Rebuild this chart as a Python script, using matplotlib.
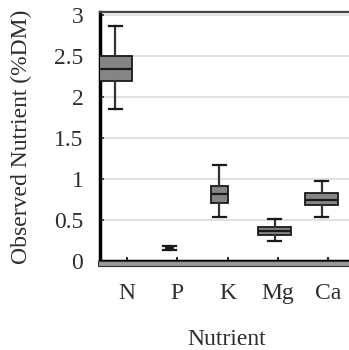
import matplotlib
matplotlib.use("Agg")
import matplotlib.pyplot as plt
from matplotlib.patches import Rectangle
import numpy as np

# values (%DM)
nutrients = ["N", "P", "K", "Mg", "Ca"]
whislo = [1.86, 0.13, 0.54, 0.24, 0.54]
q1 = [2.20, 0.145, 0.71, 0.32, 0.68]
med = [2.34, 0.155, 0.82, 0.37, 0.74]
q3 = [2.50, 0.165, 0.915, 0.415, 0.83]
whishi = [2.87, 0.18, 1.17, 0.51, 0.98]
yticks = [0, 0.5, 1, 1.5, 2, 2.5, 3]
ytick_labels = ["0", "0.5", "1", "1.5", "2", "2.5", "3"]

# layout of the boxes (they sit a bit left of the labels in the original)
box_shift = [-0.24, -0.16, -0.16, -0.06, -0.12]
box_widths = [0.68, 0.14, 0.34, 0.66, 0.66]

plt.rcParams['font.family'] = ['Liberation Serif', 'DejaVu Serif']

fig = plt.figure(figsize=(3.49, 3.5), dpi=100)
W, H = 349.0, 350.0
ax = fig.add_axes([100 / W, (H - 261) / H, 253 / W, 249 / H])

stats = []
for i, name in enumerate(nutrients):
    stats.append({'label': name, 'whislo': whislo[i], 'q1': q1[i], 'med': med[i],
                  'q3': q3[i], 'whishi': whishi[i], 'fliers': []})

pos = np.arange(len(nutrients)) + np.array(box_shift)
ax.bxp(stats, positions=pos, widths=box_widths, patch_artist=True,
       showfliers=False, manage_ticks=False,
       boxprops=dict(facecolor='#858585', edgecolor='#1a1a1a', linewidth=1.3),
       medianprops=dict(color='#1a1a1a', linewidth=1.6),
       whiskerprops=dict(color='#333333', linewidth=1.6),
       capprops=dict(color='#1a1a1a', linewidth=1.6),
       capwidths=0.26, zorder=3)

ax.set_xlim(-0.54, 4.5)
ax.set_ylim(0, 3.04)
ax.set_xticks(range(len(nutrients)))
ax.set_xticklabels(nutrients)
ax.set_yticks(yticks)
ax.set_yticklabels(ytick_labels)
ax.yaxis.grid(True, color='#dcdcdc', linewidth=1.2)
ax.set_axisbelow(True)

txt = '#2e2e2e'
ax.tick_params(axis='y', direction='in', length=3, width=1.2, pad=12, labelsize=17, colors=txt)
ax.tick_params(axis='x', direction='in', length=3, width=1.5, pad=16, labelsize=17, colors=txt)

for side in ['left', 'bottom']:
    ax.spines[side].set_color('black')
    ax.spines[side].set_linewidth(2.5)
ax.spines['top'].set_color('#444444')
ax.spines['top'].set_linewidth(1.6)
ax.spines['right'].set_visible(False)

# grey floor under the x axis
fig.patches.append(Rectangle((98 / W, (H - 266) / H), 260 / W, 5 / H,
                             transform=fig.transFigure, facecolor='#9a9a9a',
                             edgecolor='#333333', linewidth=0.8, zorder=0))

ax.set_ylabel("Observed Nutrient (%DM)", fontsize=17, color=txt, labelpad=16)
ax.set_xlabel("Nutrient", fontsize=17, color=txt, labelpad=18)

fig.savefig("out.png", dpi=100)
